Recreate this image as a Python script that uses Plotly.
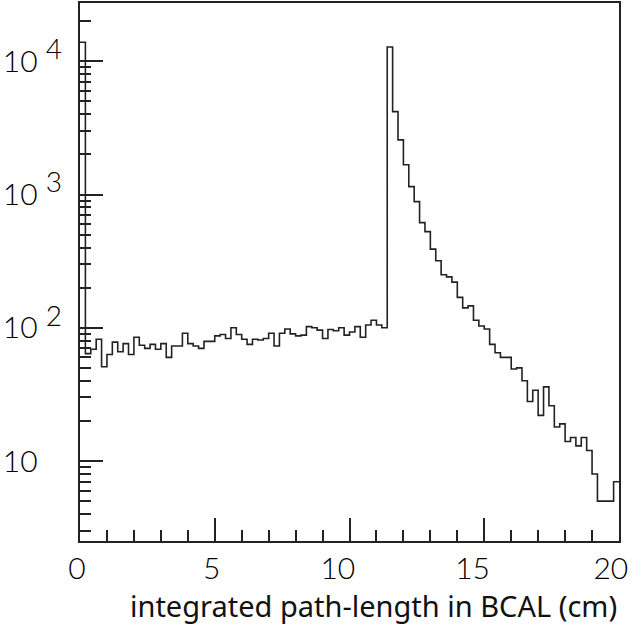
import numpy as np
import plotly.graph_objects as go

# ---- data: histogram of integrated path-length in BCAL, 100 bins of 0.2 cm from 0 to 20 ----
bin_width = 0.2
bin_low = [round(i * bin_width, 1) for i in range(100)]
counts = [
    13900, 64, 69, 82, 51, 63, 78, 66, 76, 63,
    85, 74, 70, 75, 69, 76, 60, 73, 73, 91,
    76, 73, 70, 79, 79, 87, 89, 83, 100, 89,
    82, 75, 82, 81, 83, 91, 73, 91, 98, 90,
    87, 88, 102, 100, 96, 83, 97, 95, 100, 88,
    93, 102, 85, 105, 114, 105, 100, 12800, 4190, 2570,
    1670, 1146, 885, 615, 527, 389, 318, 250, 241, 220,
    169, 141, 146, 114, 103, 98, 75, 65, 60, 60,
    49, 50, 40, 28, 34, 22, 36, 26, 18, 19,
    14, 15, 13, 15, 12, 8, 5, 5, 5, 7,
]
x_major = [0, 5, 10, 15, 20]
x_major_text = ["0", "5", "10", "15", "20"]
y_major = [10, 100, 1000, 10000]
y_major_exp = ["", "2", "3", "4"]
y_minor = [m * 10 ** d for d in range(0, 5) for m in range(2, 10)]
x_title = "integrated path-length in BCAL (cm)"

# step outline: each bin drawn from its low edge, last bin closed at the upper edge
xs = list(bin_low) + [bin_low[-1] + bin_width]
ys = list(counts) + [counts[-1]]

ink = "#222222"
clear = "color:rgba(0,0,0,0)"
tick_font = dict(family="Lato", size=30, color="#000000", weight=300)


def y_label(exp):
    # "10" followed by a raised, nearly full-size exponent
    style = "font-size:28px;" + ("" if exp else clear)
    return "10 <sup><span style='%s'>%s</span></sup>" % (style, exp if exp else "0")


def x_label(txt, last):
    # two-digit labels sit slightly left of their tick, as in the original
    if len(txt) > 1:
        size = 18 if last else 30
        return txt + "<span style='font-size:%dpx;%s'>0</span>" % (size, clear)
    return txt


fig = go.Figure()
fig.add_trace(go.Scatter(
    x=xs, y=ys, mode="lines", line=dict(shape="hv", color=ink, width=1.6),
    showlegend=False, hoverinfo="skip",
))

fig.update_layout(
    width=638, height=627,
    margin=dict(l=80, r=19, t=3, b=86, autoexpand=False),
    paper_bgcolor="white", plot_bgcolor="white",
    xaxis=dict(
        range=[0, 20], showgrid=False, zeroline=False, automargin=False,
        showline=True, mirror=True, linecolor=ink, linewidth=2,
        ticks="inside", ticklen=23, tickwidth=1.5, tickcolor=ink,
        tickvals=x_major,
        ticktext=[x_label(t, i == len(x_major_text) - 1) for i, t in enumerate(x_major_text)],
        tickfont=tick_font, ticklabelstandoff=0, ticklabelshift=-3,
        ticklabeloverflow="allow",
        minor=dict(dtick=1, ticks="inside", ticklen=11, tickwidth=1.5, tickcolor=ink, showgrid=False),
    ),
    yaxis=dict(
        type="log", range=[0.4, 4.437], showgrid=False, zeroline=False, automargin=False,
        showline=True, mirror=True, linecolor=ink, linewidth=2,
        ticks="inside", ticklen=23, tickwidth=1.5, tickcolor=ink,
        tickvals=y_major, ticktext=[y_label(e) for e in y_major_exp], tickfont=tick_font,
        ticklabelstandoff=10, ticklabeloverflow="allow",
        minor=dict(tickmode="array", tickvals=y_minor, ticks="inside", ticklen=11,
                   tickwidth=1.5, tickcolor=ink, showgrid=False),
    ),
)

fig.add_annotation(
    text=x_title, xref="paper", yref="paper", x=1.0, y=-0.08,
    xanchor="right", yanchor="top", showarrow=False,
    font=dict(family="Noto Sans", size=29, color="#111111"),
)

fig.write_html("out.html")
